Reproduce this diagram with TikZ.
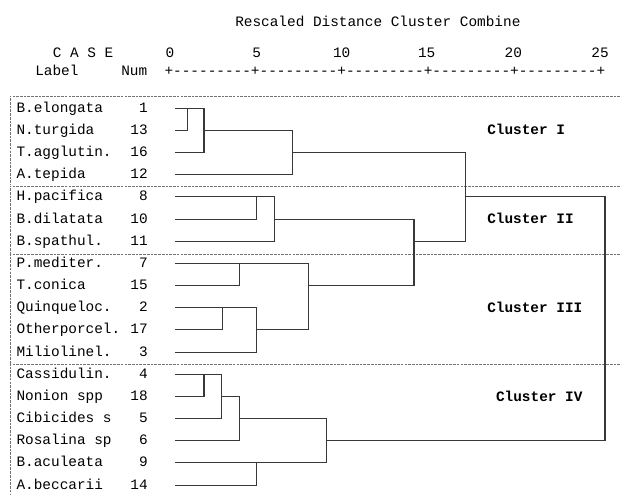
\documentclass[tikz,border=0pt]{standalone}
\usepackage{fontspec}
\setmonofont{Liberation Mono}
\usepackage{tikz}

\begin{document}
\begin{tikzpicture}[x=0.75pt,y=0.75pt,yscale=-1,xscale=1,
  txt/.style={inner sep=0pt,font=\ttfamily\fontsize{10.8}{13}\selectfont},
  clus/.style={inner sep=0pt,font=\ttfamily\bfseries\fontsize{10.8}{13}\selectfont},
  dend/.style={draw=black!78,line width=0.8pt},
  grpbox/.style={draw=black!55,line width=0.6pt,dash pattern=on 2pt off 0.8pt}]
\useasboundingbox (0,0) rectangle (620,494);

%Shape: cluster frames (open at the right)
\draw[grpbox] (620,96) -- (10,96) -- (10,185);
\draw[grpbox] (620,186) -- (10,186) -- (10,253.5);
\draw[grpbox] (620,254.3) -- (10,254.3) -- (10,363.5);
\draw[grpbox] (620,364.3) -- (10,364.3) -- (10,494);

% Text Node
\node[txt,anchor=base west] (title) at (235,26.3) {Rescaled Distance Cluster Combine};
% Text Node
\node[txt,anchor=base west] (case) at (52.5,57.7) {C A S E};
\foreach \t/\xx in {0/170,5/256.7,10/341.7,15/426.7,20/513.3,25/600}
  \node[txt,anchor=base] (tick\t) at (\xx,57.7) {\t};
% Text Node
\node[txt,anchor=base west] (label) at (35,75.7) {Label};
% Text Node
\node[txt,anchor=base west] (num) at (121,75.7) {Num};
% Text Node
\node[txt,anchor=base west] (axis) at (164.3,75.7) {+---------+---------+---------+---------+---------+};

% cases, one row each
\foreach \lab/\num [count=\r] in {B.elongata/1, N.turgida/13, T.agglutin./16, A.tepida/12,
    H.pacifica/8, B.dilatata/10, B.spathul./11, P.mediter./7, T.conica/15,
    Quinqueloc./2, Otherporcel./17, Miliolinel./3, Cassidulin./4, Nonion spp/18,
    Cibicides s/5, Rosalina sp/6, B.aculeata/9, A.beccarii/14}{
  \pgfmathsetmacro\yy{108.3+(\r-1)*22.16}
  \node[txt,anchor=base west] (lab\num) at (16.3,\yy+4) {\lab};
  \node[txt,anchor=base east] (num\num) at (148,\yy+4) {\num};
  \coordinate (c\num) at (175,\yy);
}

% merge points
\path (c1) ++(12.3,0) coordinate (m1);
\path (c13) ++(29,0) coordinate (m2);
\path (c16) ++(117.3,0) coordinate (m3);
\path (c8) ++(81.7,0) coordinate (m4);
\path (c10) ++(99.3,0) coordinate (m5);
\path (c7) ++(64.3,0) coordinate (m6);
\path (c2) ++(47.3,0) coordinate (m7);
\path (c17) ++(81.7,0) coordinate (m8);
\path (c15) ++(133.3,0) coordinate (m9);
\path (c11) ++(239,0) coordinate (m10);
\path (c8) ++(290.7,0) coordinate (m11);
\path (c4) ++(29,0) coordinate (m12);
\path (c18) ++(46.7,0) coordinate (m13);
\path (c5) ++(64.3,0) coordinate (m14);
\path (c9) ++(81.7,0) coordinate (m15);
\path (c6) ++(151.7,0) coordinate (m16);
\path (c8) ++(430,0) coordinate (m17);

%Straight Lines: dendrogram
\draw[dend] (c1) -| (m1 |- c13) -- (c13);
\draw[dend] (m1) -| (m2 |- c16) -- (c16);
\draw[dend] (m2) -| (m3 |- c12) -- (c12);
\draw[dend] (c8) -| (m4 |- c10) -- (c10);
\draw[dend] (m4) -| (m5 |- c11) -- (c11);
\draw[dend] (c7) -| (m6 |- c15) -- (c15);
\draw[dend] (c2) -| (m7 |- c17) -- (c17);
\draw[dend] (m7) -| (m8 |- c3) -- (c3);
\draw[dend] (m6) -| (m9 |- m8) -- (m8);
\draw[dend] (m5) -| (m10 |- m9) -- (m9);
\draw[dend] (m3) -| (m11 |- m10) -- (m10);
\draw[dend] (c4) -| (m12 |- c18) -- (c18);
\draw[dend] (m12) -| (m13 |- c5) -- (c5);
\draw[dend] (m13) -| (m14 |- c6) -- (c6);
\draw[dend] (c9) -| (m15 |- c14) -- (c14);
\draw[dend] (m14) -| (m16 |- m15) -- (m15);
\draw[dend] (m11) -| (m17 |- m16) -- (m16);

% Text Node
\node[clus,anchor=base west] (cl1) at (487,134.5) {Cluster I};
% Text Node
\node[clus,anchor=base west] (cl2) at (487,223.3) {Cluster II};
% Text Node
\node[clus,anchor=base west] (cl3) at (487,312.8) {Cluster III};
% Text Node
\node[clus,anchor=base west] (cl4) at (495.8,401.5) {Cluster IV};
\end{tikzpicture}
\end{document}
